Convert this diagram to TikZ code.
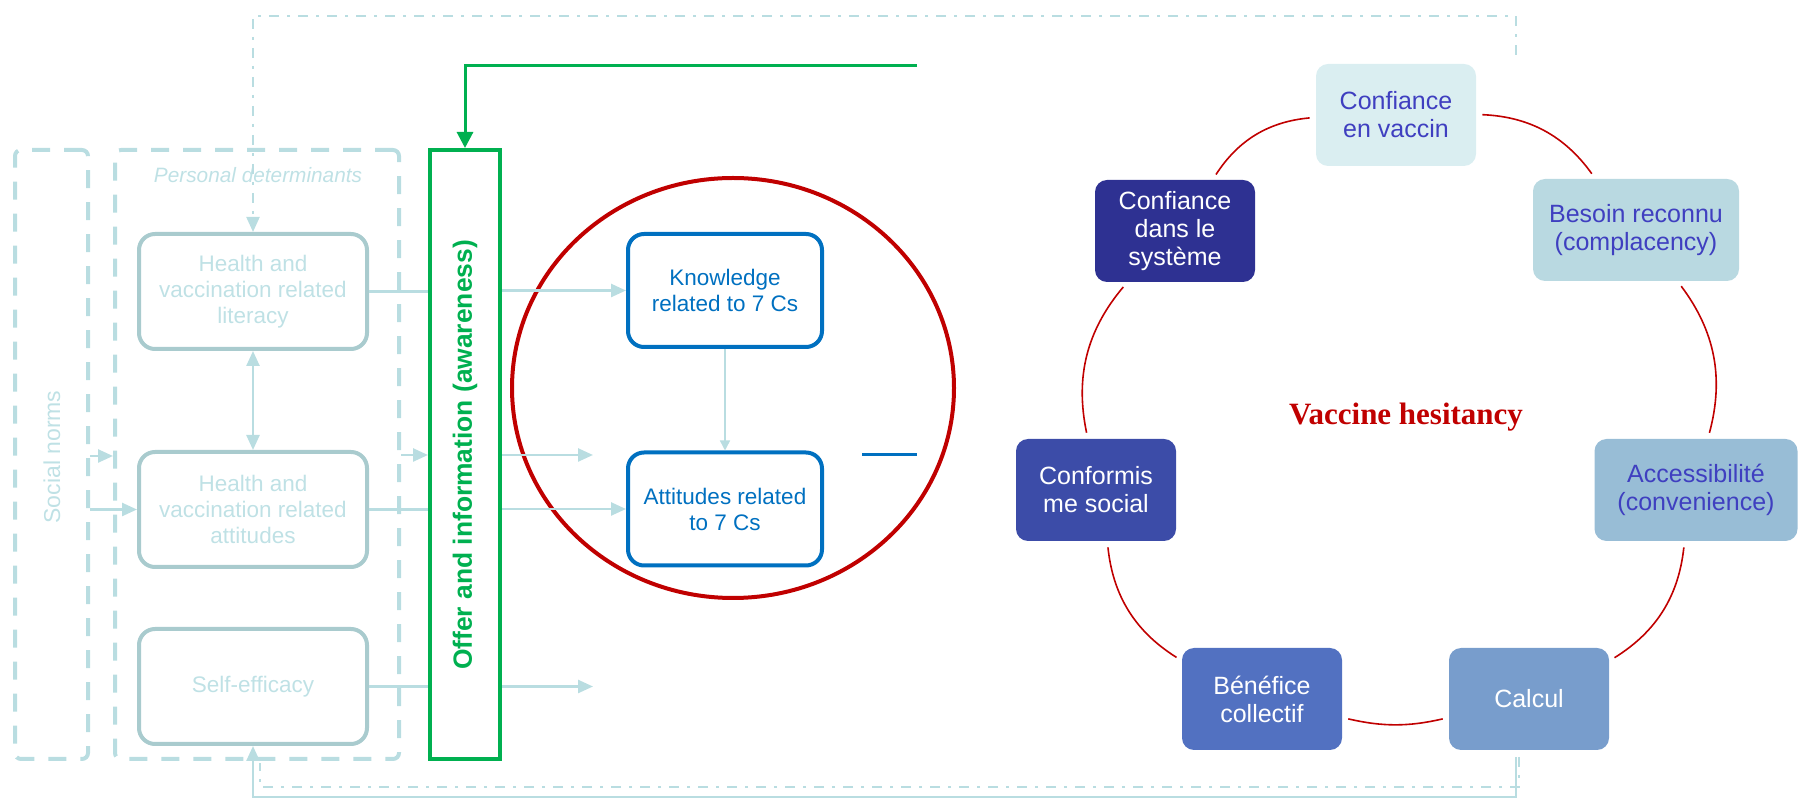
\documentclass[tikz,border=0pt]{standalone}
\usepackage{fontspec}
\setmainfont{Liberation Sans}
\newfontfamily\hesfont{Liberation Serif}
\usepackage{tikz}
\usetikzlibrary{arrows.meta}

\definecolor{pale}{HTML}{B9DDE1}
\definecolor{paletext}{HTML}{BFE1E5}
\definecolor{boxgrey}{HTML}{A9CBCE}
\definecolor{offergreen}{HTML}{00B050}
\definecolor{kblue}{HTML}{0070C0}
\definecolor{hesred}{HTML}{C00000}
\definecolor{ringtext}{HTML}{3F3FC0}
\definecolor{fvac}{HTML}{DAEEF1}
\definecolor{fsys}{HTML}{2E3192}
\definecolor{fbes}{HTML}{B9D9E1}
\definecolor{fconf}{HTML}{3C4CA8}
\definecolor{facc}{HTML}{98BDD6}
\definecolor{fben}{HTML}{5271C1}
\definecolor{fcal}{HTML}{789DCC}

\begin{document}
\begin{tikzpicture}[x=0.5pt, y=-0.5pt, every node/.style={font=\fontsize{11.25}{13}\selectfont}]
  \tikzset{frame/.style={draw=pale, line width=2pt, dash pattern=on 9pt off 7pt, rounded corners=3pt, inner sep=0pt}}
  \tikzset{detbox/.style={draw=boxgrey, line width=2pt, rounded corners=8pt, minimum width=114pt, minimum height=57.5pt, align=center, text=paletext, inner sep=0pt}}
  \tikzset{cbox/.style={draw=kblue, line width=2pt, rounded corners=8pt, minimum width=97pt, minimum height=56.5pt, align=center, text=kblue, inner sep=0pt}}
  \tikzset{ring/.style={rounded corners=6pt, minimum width=80pt, minimum height=51pt, align=center, inner sep=0pt, font=\fontsize{12.5}{14}\selectfont}}
  \useasboundingbox (0,0) rectangle (1806,801);

  % frames
  \node[frame, minimum width=36.5pt, minimum height=304.5pt] (soc) at (51.5,454.5) {};
  \node[frame, minimum width=142pt, minimum height=304.5pt] (pers) at (257,454.5) {};
  \node[rotate=90, text=paletext, font=\fontsize{11.5}{13}\selectfont] (socl) at (52,457) {Social norms};
  \node[text=paletext, font=\fontsize{10.4}{12}\selectfont\itshape] (persl) at (258,175) {Personal determinants};

  \node[detbox] (lit) at (253,291.5) {Health and\\vaccination related\\literacy};
  \node[detbox] (att) at (253,509.5) {Health and\\vaccination related\\attitudes};
  \node[detbox] (eff) at (253,686.5) {Self-efficacy};

  \node[draw=offergreen, line width=2pt, minimum width=35pt, minimum height=304.5pt, inner sep=0pt] (offer) at (465,454.5) {};
  \node[rotate=90, text=offergreen, font=\fontsize{13.2}{15}\bfseries] (offerl) at (465,455) {Offer and information (awareness)};

  \draw[hesred, line width=2pt] (733,388) ellipse [x radius=110.5pt, y radius=105pt];
  \node[cbox] (know) at (725,290.5) {Knowledge\\related to 7 Cs};
  \node[cbox] (atti) at (725,509) {Attitudes related\\to 7 Cs};

  % free ends
  \coordinate (gsrc) at (917,66);
  \coordinate (tsrc) at (1516,55);
  \coordinate (bsrc) at (1516,757);
  \coordinate (bsrc2) at (1519,757);
  \coordinate (open) at (593,455);

  \tikzset{link/.style={draw=pale, line width=1.25pt, >={Triangle[length=7.5pt,width=6.5pt]}, ->}}
  \tikzset{plain/.style={draw=pale, line width=1.25pt}}
  \tikzset{dashdot/.style={draw=pale, line width=1pt, dash pattern=on 5pt off 4pt on 1.5pt off 4pt}}
  \path (soc.east |- 0,456) edge[link] (pers.west |- 0,456);
  \path (soc.east |- att.west) edge[link] (att.west);
  \path (lit) edge[link, <->] (att);
  \draw[plain] (lit.east) -- (offer.west |- lit.east);
  \draw[plain] (att.east) -- (offer.west |- att.east);
  \draw[plain] (eff.east) -- (offer.west |- eff.east);
  \path (pers.east |- open) edge[link] (offer.west |- open);
  \path (offer.east |- know.west) edge[link] (know.west);
  \path (offer.east |- open) edge[link] (open);
  \path (offer.east |- atti.west) edge[link] (atti.west);
  \path (offer.east |- eff.east) edge[link] (open |- eff.east);
  \path (know) edge[link, line width=0.75pt, >={Triangle[length=5pt,width=5pt]}] (atti);
  \draw[kblue, line width=1.5pt] (862,455) -- (917,455);

  % feedback loops
  \draw[offergreen, line width=1.5pt, >={Triangle[length=8pt,width=8pt]}, ->] (gsrc) -| (offer.north);
  \draw[dashdot, >={Triangle[length=7.5pt,width=6.5pt]}, ->] (tsrc) |- (lit.north |- 0,16) -- (lit.north);
  \draw[link] (bsrc) |- (eff.south |- 0,797) -- (eff.south);
  \draw[dashdot] (bsrc2) |- (260,787) -- (260,763);

  % 7 Cs
  \node[ring, fill=fvac, text=ringtext] (vac) at (1396,115) {Confiance\\en vaccin};
  \node[ring, fill=fbes, text=ringtext, minimum width=103pt] (bes) at (1636,230) {Besoin reconnu\\(complacency)};
  \node[ring, fill=facc, text=ringtext, minimum width=101.5pt] (acc) at (1696,490) {Accessibilité\\(convenience)};
  \node[ring, fill=fcal, text=white] (cal) at (1529,699) {Calcul};
  \node[ring, fill=fben, text=white] (ben) at (1262,699) {Bénéfice\\collectif};
  \node[ring, fill=fconf, text=white] (conf) at (1096,490) {Conformis\\me social};
  \node[ring, fill=fsys, text=white] (sys) at (1175,231) {Confiance\\dans le\\système};
  \node[text=hesred, font=\fontsize{15.5}{17}\hesfont\bfseries] (hes) at (1406,417) {Vaccine hesitancy};

  \tikzset{ringarc/.style={draw=hesred, line width=0.8pt, bend left=26, shorten >=3pt, shorten <=3pt}}
  \path (vac) edge[ringarc] (bes);
  \path (bes) edge[ringarc] (acc);
  \path (acc) edge[ringarc] (cal);
  \path (cal) edge[ringarc, bend left=13] (ben);
  \path (ben) edge[ringarc] (conf);
  \path (conf) edge[ringarc] (sys);
  \path (sys) edge[ringarc] (vac);
\end{tikzpicture}
\end{document}
